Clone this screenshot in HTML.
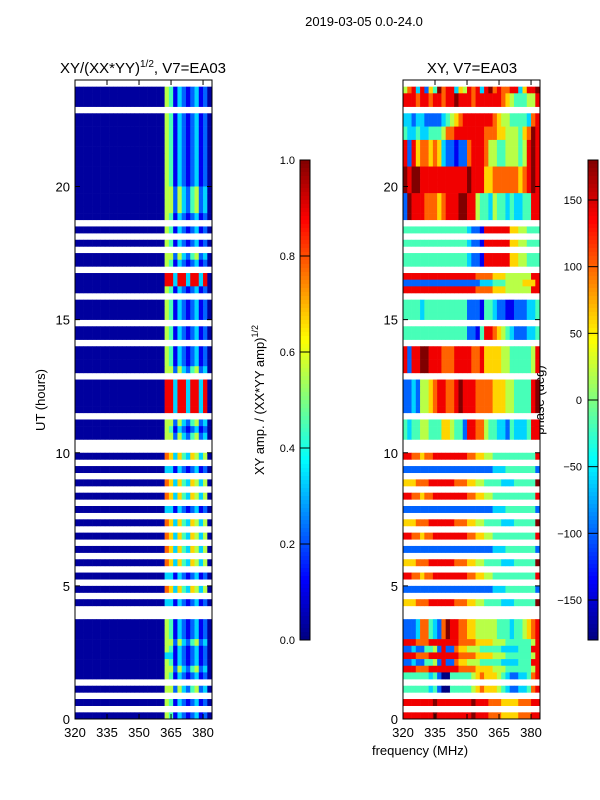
<!DOCTYPE html>
<html><head><meta charset="utf-8"><style>
html,body{margin:0;padding:0;background:#fff;}
svg{display:block;font-family:"Liberation Sans","DejaVu Sans",sans-serif;}
</style></head><body>
<svg id="fig" width="600" height="800" viewBox="0 0 600 800" xmlns="http://www.w3.org/2000/svg">
<rect width="600" height="800" fill="#fff"/>
<text x="364" y="26" font-size="13" text-anchor="middle">2019-03-05 0.0-24.0</text>
<text x="143" y="73" font-size="15" text-anchor="middle">XY/(XX*YY)<tspan font-size="10" dy="-6">1/2</tspan><tspan dy="6">, V7=EA03</tspan></text>
<text x="472" y="73" font-size="15" text-anchor="middle">XY, V7=EA03</text>
<text x="420" y="755" font-size="13" text-anchor="middle">frequency (MHz)</text>
<text transform="translate(45,400) rotate(-90)" font-size="13" text-anchor="middle">UT (hours)</text>
<text transform="translate(264,400) rotate(-90)" font-size="13" text-anchor="middle">XY amp. / (XX*YY amp)<tspan font-size="9" dy="-6">1/2</tspan></text>
<text transform="translate(544,400) rotate(-90)" font-size="13" text-anchor="middle">phase (deg)</text>
<g id="left"></g>
<g id="right"></g>
<g id="cb"></g>
</svg>
<script>
// Data: rows are 0.25 h bins from 24h (top) down to 0h; columns are 2 MHz bins from 320 to 384 MHz.
const freqTicks = [320, 335, 350, 365, 380];
const timeTicks = [0, 5, 10, 15, 20];
const ampTicks = [0.0, 0.2, 0.4, 0.6, 0.8, 1.0];
const phaseTicks = [-150, -100, -50, 0, 50, 100, 150];
const leftRowTypes = ".BBB.BBBBBBBBBBBYYYYB.B.B.YB.RRB.BBB.BB.BBBY.RRRRR.YBY..S.D.S.S.D.S.S.S.S.D.S.D..BBBYBDBYB.Y.B.B";
const leftPatterns = {
  B: "00000000000000000000054132123120",
  Y: "00000000000000000000055253245230",
  R: "00000000000000000000088388388380",
  S: "00000000000000000000076364365350",
  D: "00000000000000000000033132123120"
};
const rightRowTypes = ".abb.ccddeeeeffffgggg.h.h.hh.iji.kkk.ll.mmmm.nnnnn.ooo..p.q.r.p.q.r.p.q.r.p.q.r..ssstututv.v.w.w";
const rightPatterns = {
  a: "57838264978836587838978778836889",
  b: "88878878878898887888888765444558",
  c: "33233222234567888888876554444378",
  d: "43343344457788888887776655546798",
  e: "82867767632212278887554455545898",
  f: "98998888888888898886677777767898",
  g: "29888777678889988544354434334488",
  h: "44444444444444432218888886655444",
  i: "88888888888888888777766655555588",
  j: "22222222222222222233344455556668",
  k: "44443444444444422214432211222334",
  l: "44444444444444422148876543222334",
  m: "82889988877788887786666554444458",
  n: "22325567887789888777766655444489",
  o: "43445544466544288775443324333488",
  p: "88776778888888877665544444444448",
  q: "22222222222222222222233344444442",
  r: "66677788888877766554444333444449",
  s: "22237743279887766555554443445678",
  t: "88877788888887777666655544444458",
  u: "22322445282276655544444333344488",
  v: "44444434200444445676665432233478",
  w: "88888889888888889888777666677788"
};

const NS = "http://www.w3.org/2000/svg";
const F0 = 320, F1 = 384.2, T0 = 0, T1 = 24, NROWS = 96, NCOLS = 32, FSTEP = 2;
const Y_TOP = 80, Y_BOT = 719;
function yOf(t){ return Y_BOT - (t - T0) / (T1 - T0) * (Y_BOT - Y_TOP); }
function mk(tag, attrs, parent){ const e = document.createElementNS(NS, tag); for (const k in attrs) e.setAttribute(k, attrs[k]); parent.appendChild(e); return e; }
function jet(v){
  v = Math.max(0, Math.min(1, v));
  const r = Math.max(0, Math.min(1, 1.5 - Math.abs(4*v - 3)));
  const g = Math.max(0, Math.min(1, 1.5 - Math.abs(4*v - 2)));
  const b = Math.max(0, Math.min(1, 1.5 - Math.abs(4*v - 1)));
  return "rgb(" + Math.round(r*255) + "," + Math.round(g*255) + "," + Math.round(b*255) + ")";
}
function panel(gid, x0, x1, rowTypes, patterns, valFn){
  const g = document.getElementById(gid);
  const xOf = f => x0 + (f - F0) / (F1 - F0) * (x1 - x0);
  for (let i = 0; i < NROWS; i++){
    const code = rowTypes[i];
    if (!code || code === ".") continue;
    const pat = patterns[code];
    const tTop = T1 - i * (T1 - T0) / NROWS, tBot = tTop - (T1 - T0) / NROWS;
    for (let c = 0; c < NCOLS; c++){
      const f = F0 + c * FSTEP;
      const xa = xOf(f), xb = Math.min(x1, xOf(f + FSTEP));
      const cell = mk("rect", {x: xa.toFixed(2), y: yOf(tTop).toFixed(2), width: (xb - xa + 0.3).toFixed(2), height: (yOf(tBot) - yOf(tTop) + 0.3).toFixed(2), fill: jet(valFn(pat[c]))}, g);
      
      
    }
  }
  const frame = mk("rect", {x: x0, y: Y_TOP, width: x1 - x0, height: Y_BOT - Y_TOP, fill: "none", stroke: "#000", "stroke-width": 1}, g);
  
  
  freqTicks.forEach(f => {
    const x = xOf(f);
    mk("line", {x1: x, y1: Y_BOT, x2: x, y2: Y_BOT - 5, stroke: "#000"}, g);
    mk("line", {x1: x, y1: Y_TOP, x2: x, y2: Y_TOP + 5, stroke: "#000"}, g);
    const lb = mk("text", {x: x, y: Y_BOT + 18, "font-size": 13, "text-anchor": "middle"}, g);
    lb.textContent = String(f);
    
    
  });
  timeTicks.forEach(t => {
    const y = yOf(t);
    mk("line", {x1: x0, y1: y, x2: x0 + 5, y2: y, stroke: "#000"}, g);
    mk("line", {x1: x1, y1: y, x2: x1 - 5, y2: y, stroke: "#000"}, g);
    const lb = mk("text", {x: x0 - 5, y: y + 5, "font-size": 13, "text-anchor": "end"}, g);
    lb.textContent = String(t);
    
    
  });
}
panel("left", 75, 212, leftRowTypes, leftPatterns, ch => ch === "0" ? 0.03 : (+ch) / 9);
panel("right", 403, 540, rightRowTypes, rightPatterns, ch => (+ch) / 9);

function colorbar(x, w, vmin, vmax, ticks, fmt, labelX, name){
  const g = document.getElementById("cb");
  const top = 160, bot = 640, N = 120;
  for (let k = 0; k < N; k++){
    const y = top + k * (bot - top) / N;
    mk("rect", {x: x, y: y.toFixed(2), width: w, height: ((bot - top) / N + 0.5).toFixed(2), fill: jet(1 - (k + 0.5) / N)}, g);
  }
  const fr = mk("rect", {x: x, y: top, width: w, height: bot - top, fill: "none", stroke: "#000"}, g);
  
  
  ticks.forEach(v => {
    const y = bot - (v - vmin) / (vmax - vmin) * (bot - top);
    mk("line", {x1: x, y1: y, x2: x + w, y2: y, stroke: "#000"}, g);
    const lb = mk("text", {x: labelX, y: y + 4, "font-size": 11, "text-anchor": "end"}, g);
    lb.textContent = fmt(v);
    
    
  });
}
colorbar(300, 10, 0, 1, ampTicks, v => v.toFixed(1), 295, "amplitude-colorbar");
colorbar(588, 10, -180, 180, phaseTicks, v => (v < 0 ? "\u2212" + Math.abs(v) : String(v)), 582, "phase-colorbar");
</script>
</body></html>
